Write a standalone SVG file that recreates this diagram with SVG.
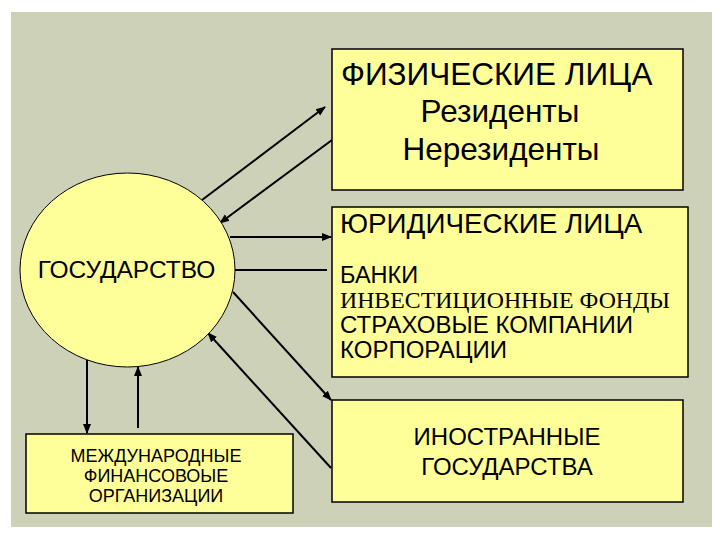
<svg xmlns="http://www.w3.org/2000/svg" width="720" height="540" viewBox="0 0 720 540">
  <defs>
    <marker id="ah" viewBox="0 0 10 10" refX="9" refY="5" markerWidth="5" markerHeight="5" orient="auto" markerUnits="strokeWidth">
      <path d="M0,1 L10,5 L0,9 Z" fill="#000"/>
    </marker>
    <style>
      .box { fill: #FFFF99; stroke: #000; stroke-width: 1.5; }
      .t { font-family: "Liberation Sans", Arial, sans-serif; fill: #000; }
      .ts { font-family: "Liberation Serif", "Times New Roman", serif; fill: #000; }
      .c { stroke: #000; stroke-width: 2; fill: none; }
    </style>
  </defs>
  <rect x="0" y="0" width="720" height="540" fill="#FFFFFF"/>
  <rect x="11" y="12" width="701" height="515" fill="#CDD1B8"/>

  <g id="connectors">
    <line class="c" x1="202" y1="200" x2="325" y2="107" marker-end="url(#ah)"/>
    <line class="c" x1="332" y1="140" x2="220" y2="223" marker-end="url(#ah)"/>
    <line class="c" x1="230" y1="237" x2="331" y2="237" marker-end="url(#ah)"/>
    <line class="c" x1="235" y1="270" x2="327" y2="270"/>
    <line class="c" x1="233" y1="292" x2="331" y2="400" marker-end="url(#ah)"/>
    <line class="c" x1="331" y1="468" x2="208" y2="333" marker-end="url(#ah)"/>
    <line class="c" x1="87" y1="358" x2="87" y2="433" marker-end="url(#ah)"/>
    <line class="c" x1="138" y1="428" x2="138" y2="367" marker-end="url(#ah)"/>
  </g>

  <g id="gosudarstvo">
    <ellipse cx="127.5" cy="270" rx="107.5" ry="97" fill="#FFFF99" stroke="#000" stroke-width="1"/>
    <text class="t" x="126.5" y="278" font-size="24.5" text-anchor="middle">ГОСУДАРСТВО</text>
  </g>

  <g id="fiz">
    <rect class="box" x="332" y="49" width="351" height="141"/>
    <text class="t" x="341" y="85" font-size="31.5">ФИЗИЧЕСКИЕ ЛИЦА</text>
    <text class="t" x="500" y="122" font-size="31.5" text-anchor="middle">Резиденты</text>
    <text class="t" x="501" y="160" font-size="31.5" text-anchor="middle">Нерезиденты</text>
  </g>

  <g id="yur">
    <rect class="box" x="332" y="207" width="356" height="170"/>
    <text class="t" x="340" y="233" font-size="27.8">ЮРИДИЧЕСКИЕ ЛИЦА</text>
    <text class="t" x="340" y="283" font-size="23.5">БАНКИ</text>
    <text class="ts" x="340" y="308" font-size="23.8">ИНВЕСТИЦИОННЫЕ ФОНДЫ</text>
    <text class="t" x="340" y="333" font-size="24">СТРАХОВЫЕ КОМПАНИИ</text>
    <text class="t" x="340" y="358" font-size="24">КОРПОРАЦИИ</text>
  </g>

  <g id="inostr">
    <rect class="box" x="332" y="400" width="351" height="102"/>
    <text class="t" x="507" y="445" font-size="24" text-anchor="middle">ИНОСТРАННЫЕ</text>
    <text class="t" x="507" y="475" font-size="24" text-anchor="middle">ГОСУДАРСТВА</text>
  </g>

  <g id="mfo">
    <rect class="box" x="26" y="434" width="267" height="79"/>
    <text class="t" x="156" y="462" font-size="18" text-anchor="middle">МЕЖДУНАРОДНЫЕ</text>
    <text class="t" x="156" y="482" font-size="18" text-anchor="middle">ФИНАНСОВОЫЕ</text>
    <text class="t" x="156" y="502" font-size="18" text-anchor="middle">ОРГАНИЗАЦИИ</text>
  </g>
</svg>
